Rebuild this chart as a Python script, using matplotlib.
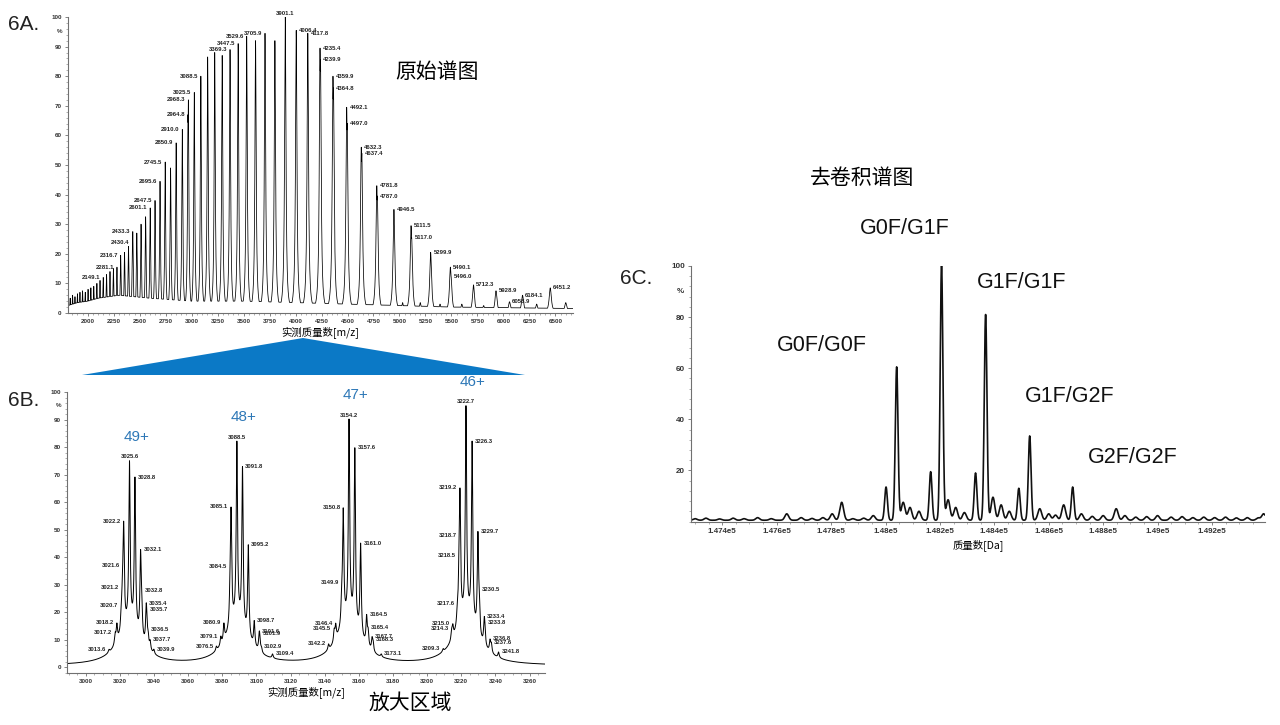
import numpy as np
import matplotlib
matplotlib.use("Agg")
import matplotlib.pyplot as plt
from matplotlib.patches import Polygon
from matplotlib.ticker import MultipleLocator, FuncFormatter

plt.rcParams['font.family'] = ['Liberation Sans', 'Noto Sans CJK SC', 'DejaVu Sans']

# ---- 6A: raw spectrum, peak m/z and relative intensity (%)
a_mz = [1831, 1854, 1877, 1901, 1925, 1950, 1976, 2003, 2030, 2058, 2088, 2118,
        2149.1, 2181, 2214, 2247, 2281.1, 2316.7, 2354, 2392, 2430.4, 2433.3,
        2472, 2513, 2557, 2601.1, 2647.5, 2695.6, 2745.5, 2797, 2850.9, 2910.0,
        2964.8, 2968.3, 3025.5, 3088.5, 3154, 3222, 3294, 3369.3, 3447.5, 3529.6,
        3615, 3705.9, 3801, 3901.1, 4006.4, 4117.8, 4235.4, 4239.9, 4359.9,
        4364.8, 4492.1, 4497.0, 4632.3, 4637.4, 4781.8, 4787.0, 4946.5, 5030,
        5111.5, 5117.0, 5200, 5299.9, 5390, 5490.1, 5496.0, 5600, 5712.3, 5810,
        5928.9, 6058.9, 6184.1, 6320, 6451.2, 6600]
a_int = [5, 6, 5.5, 6.5, 7, 7.5, 7, 8, 8.5, 9, 10, 11,
         12, 13, 14, 15, 15.5, 19.5, 20.5, 22.5, 24, 27.5,
         27, 30, 32.5, 35.5, 38, 44.5, 51, 49, 57.5, 62,
         67, 72, 74.5, 80, 86.5, 88, 87, 89, 91, 93.5,
         92, 94.5, 92, 100, 95.5, 94.5, 89.5, 85.5, 80,
         76, 69.5, 64, 56, 54, 43, 39.5, 35, 3.5,
         29.5, 25.5, 3.5, 20.5, 3, 15.5, 12.5, 3, 9.5, 2.5,
         7.5, 3.8, 6, 3, 8.5, 3.5]
a_labels = [2149.1, 2281.1, 2316.7, 2430.4, 2433.3, 2601.1, 2647.5, 2695.6,
            2745.5, 2850.9, 2910.0, 2964.8, 2968.3, 3025.5, 3088.5, 3369.3,
            3447.5, 3529.6, 3705.9, 3901.1, 4006.4, 4117.8, 4235.4, 4239.9,
            4359.9, 4364.8, 4492.1, 4497.0, 4632.3, 4637.4, 4781.8, 4787.0,
            4946.5, 5111.5, 5117.0, 5299.9, 5490.1, 5496.0, 5712.3, 5928.9,
            6058.9, 6184.1, 6451.2]
# baseline
a_base_mz = [1810, 1900, 2000, 2100, 2200, 2300, 2450, 2600, 2800, 3000, 3500,
             4000, 4500, 5000, 5500, 6000, 6670]
a_base = [2.5, 3.5, 4.0, 5.0, 5.5, 6.0, 5.5, 5.0, 4.5, 4.0, 4.0, 3.5, 3.0, 2.5,
          2.0, 1.8, 1.5]

# ---- 6B: zoomed charge states
b_charge = ['49+', '48+', '47+', '46+']
b49_mz = [3013.6, 3017.2, 3018.2, 3020.7, 3021.2, 3021.6, 3022.2, 3025.6, 3028.8,
          3032.1, 3032.8, 3035.4, 3035.7, 3036.5, 3037.7, 3039.9]
b49_int = [1, 3.5, 6, 4, 4, 8, 35, 58, 54, 29, 9, 12, 4, 4, 3, 1.5]
b48_mz = [3076.5, 3079.1, 3080.9, 3084.5, 3085.1, 3088.5, 3091.8, 3095.2, 3098.7,
          3101.6, 3101.9, 3102.9, 3109.4]
b48_int = [1.5, 3, 6, 8, 40, 64, 57, 33, 9, 5, 3, 1.5, 1.5]
b47_mz = [3142.2, 3145.5, 3146.4, 3149.9, 3150.8, 3154.2, 3157.6, 3161.0, 3164.5,
          3165.4, 3167.7, 3168.3, 3173.1]
b47_int = [2, 4, 5, 8, 40, 71, 63, 33, 10, 5, 4, 3, 1]
b46_mz = [3209.3, 3214.3, 3215.0, 3217.6, 3218.5, 3218.7, 3219.2, 3222.7, 3226.3,
          3229.7, 3230.5, 3233.4, 3233.8, 3236.8, 3237.6, 3241.8]
b46_int = [1, 3, 4, 4, 5, 8, 43, 75, 65, 35, 9, 8, 4, 4, 3, 2]
b_foot = [14, 15, 16, 17]

# ---- 6C: deconvoluted spectrum
c_mass = [147300, 147340, 147390, 147440, 147480, 147530, 147580, 147637, 147690,
          147730, 147770, 147804, 147839, 147880, 147920, 147955, 148002, 148041,
          148065, 148090, 148123, 148166, 148206, 148230, 148258, 148290, 148331,
          148368, 148395, 148425, 148455, 148490, 148530, 148567, 148600, 148625,
          148655, 148688, 148720, 148760, 148800, 148848, 148880, 148920, 148960,
          149000, 149050, 149090, 149130, 149170, 149210, 149250, 149290, 149330,
          149370, 149390]
c_int = [0.6, 0.8, 0.5, 0.8, 0.6, 1.0, 0.6, 2.5, 1.0, 0.7, 1.0, 2.5, 7.0, 0.6,
         0.8, 1.8, 13, 60, 7, 5, 3.5, 19, 100, 8, 5, 3, 18.5, 80.5, 9, 6, 3.5,
         12.5, 33, 4.5, 2.5, 2, 6, 13, 2.5, 1.5, 1.8, 4.5, 1.8, 1.2, 1.4, 1.8,
         1.2, 1.4, 1.0, 1.2, 1.0, 1.2, 0.9, 1.0, 0.9, 2.5]
c_names = ['G0F/G0F', 'G0F/G1F', 'G1F/G1F', 'G1F/G2F', 'G2F/G2F']

W, H = 1280, 725
fig = plt.figure(figsize=(W / 100, H / 100), dpi=100)
fig.patch.set_facecolor('white')
CJK = ['Noto Sans CJK SC', 'DejaVu Sans']


def px_axes(left, top, right, bottom):
    return fig.add_axes([left / W, 1 - bottom / H, (right - left) / W, (bottom - top) / H])


def style(ax, size):
    for s in ['top', 'right']:
        ax.spines[s].set_visible(False)
    for s in ['left', 'bottom']:
        ax.spines[s].set_color('#707070')
        ax.spines[s].set_linewidth(0.8)
    ax.tick_params(which='major', length=2.5, width=0.6, color='#707070',
                   labelsize=size, pad=2, labelcolor='#333333')
    ax.tick_params(which='minor', length=1.2, width=0.5, color='#909090')
    for t in ax.get_xticklabels() + ax.get_yticklabels():
        t.set_fontweight('bold')


def pct(ax, y, size):
    ax.text(-0.012, y, '%', transform=ax.get_yaxis_transform(), ha='right',
            va='center', fontsize=size, fontweight='bold', color='#333333')


# ----- 6A
ax = px_axes(68, 17, 573, 313)
x = np.arange(1810, 6670, 0.25)
mz = np.array(a_mz)[:, None]
g = 0.002 * mz
shapes = np.array(a_int)[:, None] * g ** 2 / ((x - mz) ** 2 + g ** 2)
spec_a = np.maximum(np.interp(x, a_base_mz, a_base), shapes.max(axis=0))
ax.plot(x, spec_a, color='black', lw=0.55)
ax.set_xlim(1810, 6670)
ax.set_ylim(0, 100)
ax.xaxis.set_major_locator(MultipleLocator(250))
ax.xaxis.set_minor_locator(MultipleLocator(50))
ax.yaxis.set_major_locator(MultipleLocator(10))
ax.yaxis.set_minor_locator(MultipleLocator(2))
style(ax, 4.5)
pct(ax, 95, 4.5)
ax.set_xlabel('实测质量数[m/z]', family=CJK, fontsize=7.5, labelpad=1.5)
top_mz = a_mz[int(np.argmax(a_int))]
for m in a_labels:
    y = np.interp(m, x, spec_a)
    if m == top_mz:
        off, ha, va = (0, 1), 'center', 'bottom'
    elif m < top_mz:
        off, ha, va = (-2, 0), 'right', 'center'
    else:
        off, ha, va = (2, 0), 'left', 'center'
    ax.annotate(f'{m:.1f}', (m, y), xytext=off, textcoords='offset points',
                ha=ha, va=va, fontsize=4.3, fontweight='bold', color='#222222',
                annotation_clip=False)

# ----- 6B
ax = px_axes(67, 392, 545, 673)
x = np.arange(2989, 3269.01, 0.05)
spec_b = np.full_like(x, 0.6)
clusters = [(b49_mz, b49_int), (b48_mz, b48_int), (b47_mz, b47_int), (b46_mz, b46_int)]
for (ms, hs), hf in zip(clusters, b_foot):
    centre = ms[int(np.argmax(hs))]
    spec_b += hf * 8 ** 2 / ((x - centre) ** 2 + 8 ** 2)
    for m, h in zip(ms, hs):
        spec_b += h * 0.45 ** 2 / ((x - m) ** 2 + 0.45 ** 2)
ax.plot(x, spec_b, color='black', lw=0.7)
ax.set_xlim(2989, 3269)
ax.set_ylim(-2, 100)
ax.xaxis.set_major_locator(MultipleLocator(20))
ax.xaxis.set_minor_locator(MultipleLocator(5))
ax.yaxis.set_major_locator(MultipleLocator(10))
ax.yaxis.set_minor_locator(MultipleLocator(2))
style(ax, 4.5)
pct(ax, 95, 4.5)
ax.set_xlabel('实测质量数[m/z]', family=CJK, fontsize=7.5, labelpad=1.5)
for (ms, hs), ch in zip(clusters, b_charge):
    k = int(np.argmax(hs))
    for i, m in enumerate(ms):
        y = np.interp(m, x, spec_b)
        if i == k:
            off, ha, va = (0, 1), 'center', 'bottom'
        elif i < k:
            off, ha, va = (-2, 0), 'right', 'center'
        else:
            off, ha, va = (2, 0), 'left', 'center'
        ax.annotate(f'{m:.1f}', (m, y), xytext=off, textcoords='offset points',
                    ha=ha, va=va, fontsize=4.2, fontweight='bold', color='#222222')
    ytop = np.interp(ms[k], x, spec_b)
    ax.annotate(ch, (ms[k], ytop), xytext=(5, 17), textcoords='offset points',
                ha='center', va='center', fontsize=11, color='#2E78B7',
                annotation_clip=False)

# ----- 6C
ax = px_axes(691, 266, 1265, 521.5)
x = np.arange(147285, 149395, 1.0)
spec_c = np.full_like(x, 0.5)
for m, h in zip(c_mass, c_int):
    s = 5 if h > 10 else 7
    spec_c += h * np.exp(-0.5 * ((x - m) / s) ** 2)
ax.plot(x, spec_c, color='#111111', lw=1.2)
ax.set_xlim(147285, 149395)
ax.set_ylim(0, 100)
ax.set_yticks([20, 40, 60, 80, 100])
ax.yaxis.set_minor_locator(MultipleLocator(4))
ax.xaxis.set_major_locator(MultipleLocator(200))
ax.xaxis.set_minor_locator(MultipleLocator(50))
ax.xaxis.set_major_formatter(FuncFormatter(lambda v, p: f'{v / 1e5:g}e5'))
style(ax, 5.8)
pct(ax, 90, 5.8)
ax.set_xlabel('质量数[Da]', family=CJK, fontsize=7.5, labelpad=3)

# ----- texts and triangle
for s, px, py in [('6A.', 8, 25), ('6B.', 8, 400), ('6C.', 620, 278)]:
    fig.text(px / W, 1 - py / H, s, fontsize=15, ha='left', va='center', color='#222222')
for s, px, py in [('原始谱图', 437, 72), ('放大区域', 410, 703), ('去卷积谱图', 862, 178)]:
    fig.text(px / W, 1 - py / H, s, fontsize=15, ha='center', va='center',
             family=CJK, color='black')
for s, px, py in zip(c_names, [822, 905, 1022, 1070, 1133], [345, 228, 283, 397, 458]):
    fig.text(px / W, 1 - py / H, s, fontsize=15.5, ha='center', va='center', color='#111111')

tri = Polygon([(82 / W, 1 - 375 / H), (525 / W, 1 - 375 / H), (303 / W, 1 - 338 / H)],
              closed=True, transform=fig.transFigure, facecolor='#0B79C6',
              edgecolor='none')
fig.patches.append(tri)

fig.savefig('out.png', dpi=100)
